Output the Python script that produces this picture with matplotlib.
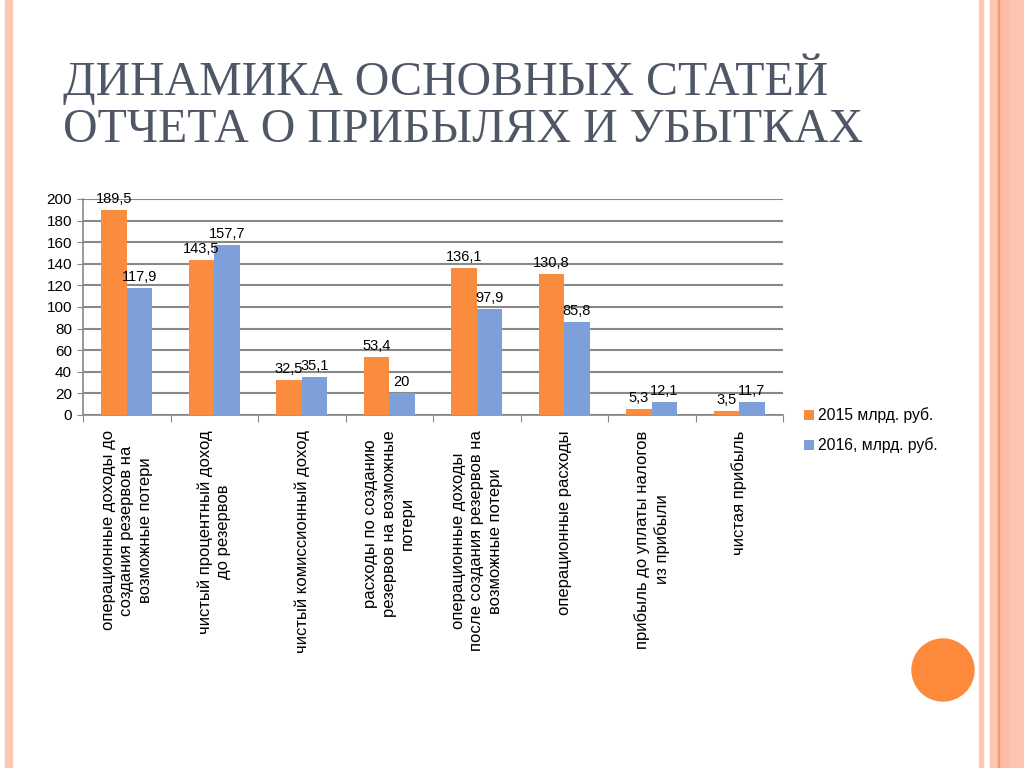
import numpy as np
import matplotlib
matplotlib.use('Agg')
import matplotlib.pyplot as plt
from matplotlib.patches import Rectangle, Circle

categories = [
    "операционные доходы до\nсоздания резервов на\nвозможные потери",
    "чистый процентный доход\nдо резервов",
    "чистый комиссионный доход",
    "расходы по созданию\nрезервов на возможные\nпотери",
    "операционные доходы\nпосле создания резервов на\nвозможные потери",
    "операционные расходы",
    "прибыль до уплаты налогов\nиз прибыли",
    "чистая прибыль",
]
values_2015 = [189.5, 143.5, 32.5, 53.4, 136.1, 130.8, 5.3, 3.5]
values_2016 = [117.9, 157.7, 35.1, 20.0, 97.9, 85.8, 12.1, 11.7]
series_names = ["2015 млрд. руб.", "2016, млрд. руб."]
title_lines = ["ДИНАМИКА ОСНОВНЫХ СТАТЕЙ", "ОТЧЕТА О ПРИБЫЛЯХ И УБЫТКАХ"]

c_orange = '#f98c3d'
c_blue = '#7da0da'
c_grid = '#888888'
pink = '#fdc6b2'

plt.rcParams['font.family'] = ['Liberation Sans', 'DejaVu Sans']

fig = plt.figure(figsize=(10.24, 7.68), dpi=100)

# slide decorations (pixel coords)
px = matplotlib.transforms.IdentityTransform()
fig.patches.append(Rectangle((5, 0), 7, 768, transform=px, color=pink, zorder=0))
fig.patches.append(Rectangle((979, 0), 4, 768, transform=px, color=pink, zorder=0))
fig.patches.append(Rectangle((990, 0), 34, 768, transform=px, color=pink, zorder=0))
fig.patches.append(Rectangle((999, 0), 9, 768, transform=px, color='#fbbda5', zorder=0))
fig.patches.append(Rectangle((997.5, 0), 1.5, 768, transform=px, color='#f29a70', zorder=0))
fig.patches.append(Circle((943, 768 - 670), 31, transform=px, color='#fd8a3a', zorder=0))

for i, line in enumerate(title_lines):
    fig.text(63 / 1024, 1 - (79 + i * 51) / 768, line, family='Liberation Serif',
             fontsize=34.5, color='#4f5766', va='center', ha='left')

ax = fig.add_axes([83 / 1024, 1 - 415 / 768, 700 / 1024, 216 / 768])
x = np.arange(len(categories))
w = 0.29
b1 = ax.bar(x - w / 2, values_2015, w, color=c_orange, label=series_names[0], zorder=3)
b2 = ax.bar(x + w / 2, values_2016, w, color=c_blue, label=series_names[1], zorder=3)

for bars, vals in ((b1, values_2015), (b2, values_2016)):
    for r, v in zip(bars, vals):
        txt = f"{v:g}".replace('.', ',')
        ax.annotate(txt, (r.get_x() + r.get_width() / 2, r.get_height()),
                    xytext=(0, 3), textcoords='offset points', ha='center', va='bottom',
                    fontsize=10.5, zorder=4)

ax.set_xlim(-0.5, len(categories) - 0.5)
ax.set_ylim(0, 200)
ax.set_yticks(range(0, 201, 20))
ax.yaxis.grid(True, color=c_grid, linewidth=1.5, zorder=0)
ax.tick_params(axis='y', labelsize=11, length=4, color=c_grid, pad=4)

ax.set_xticks(np.arange(-0.5, len(categories), 1.0))
ax.set_xticklabels([])
ax.tick_params(axis='x', length=5, color=c_grid)
for xi, lab in zip(x, categories):
    ax.annotate(lab, (xi, 0), xytext=(0, -11), textcoords='offset points',
                rotation=90, ha='center', va='top', multialignment='center',
                fontsize=12, linespacing=1.3, annotation_clip=False)

for s in ['top', 'right']:
    ax.spines[s].set_visible(False)
ax.spines['left'].set_color(c_grid)
ax.spines['bottom'].set_color(c_grid)
ax.spines['left'].set_linewidth(1.2)
ax.spines['bottom'].set_linewidth(1.2)

ax.legend(loc='upper left', bbox_to_anchor=(1.01, 0.1), frameon=False, fontsize=11.3,
          handlelength=0.6, handleheight=0.6, handletextpad=0.3, labelspacing=0.9)

fig.savefig('out.png', dpi=100)
